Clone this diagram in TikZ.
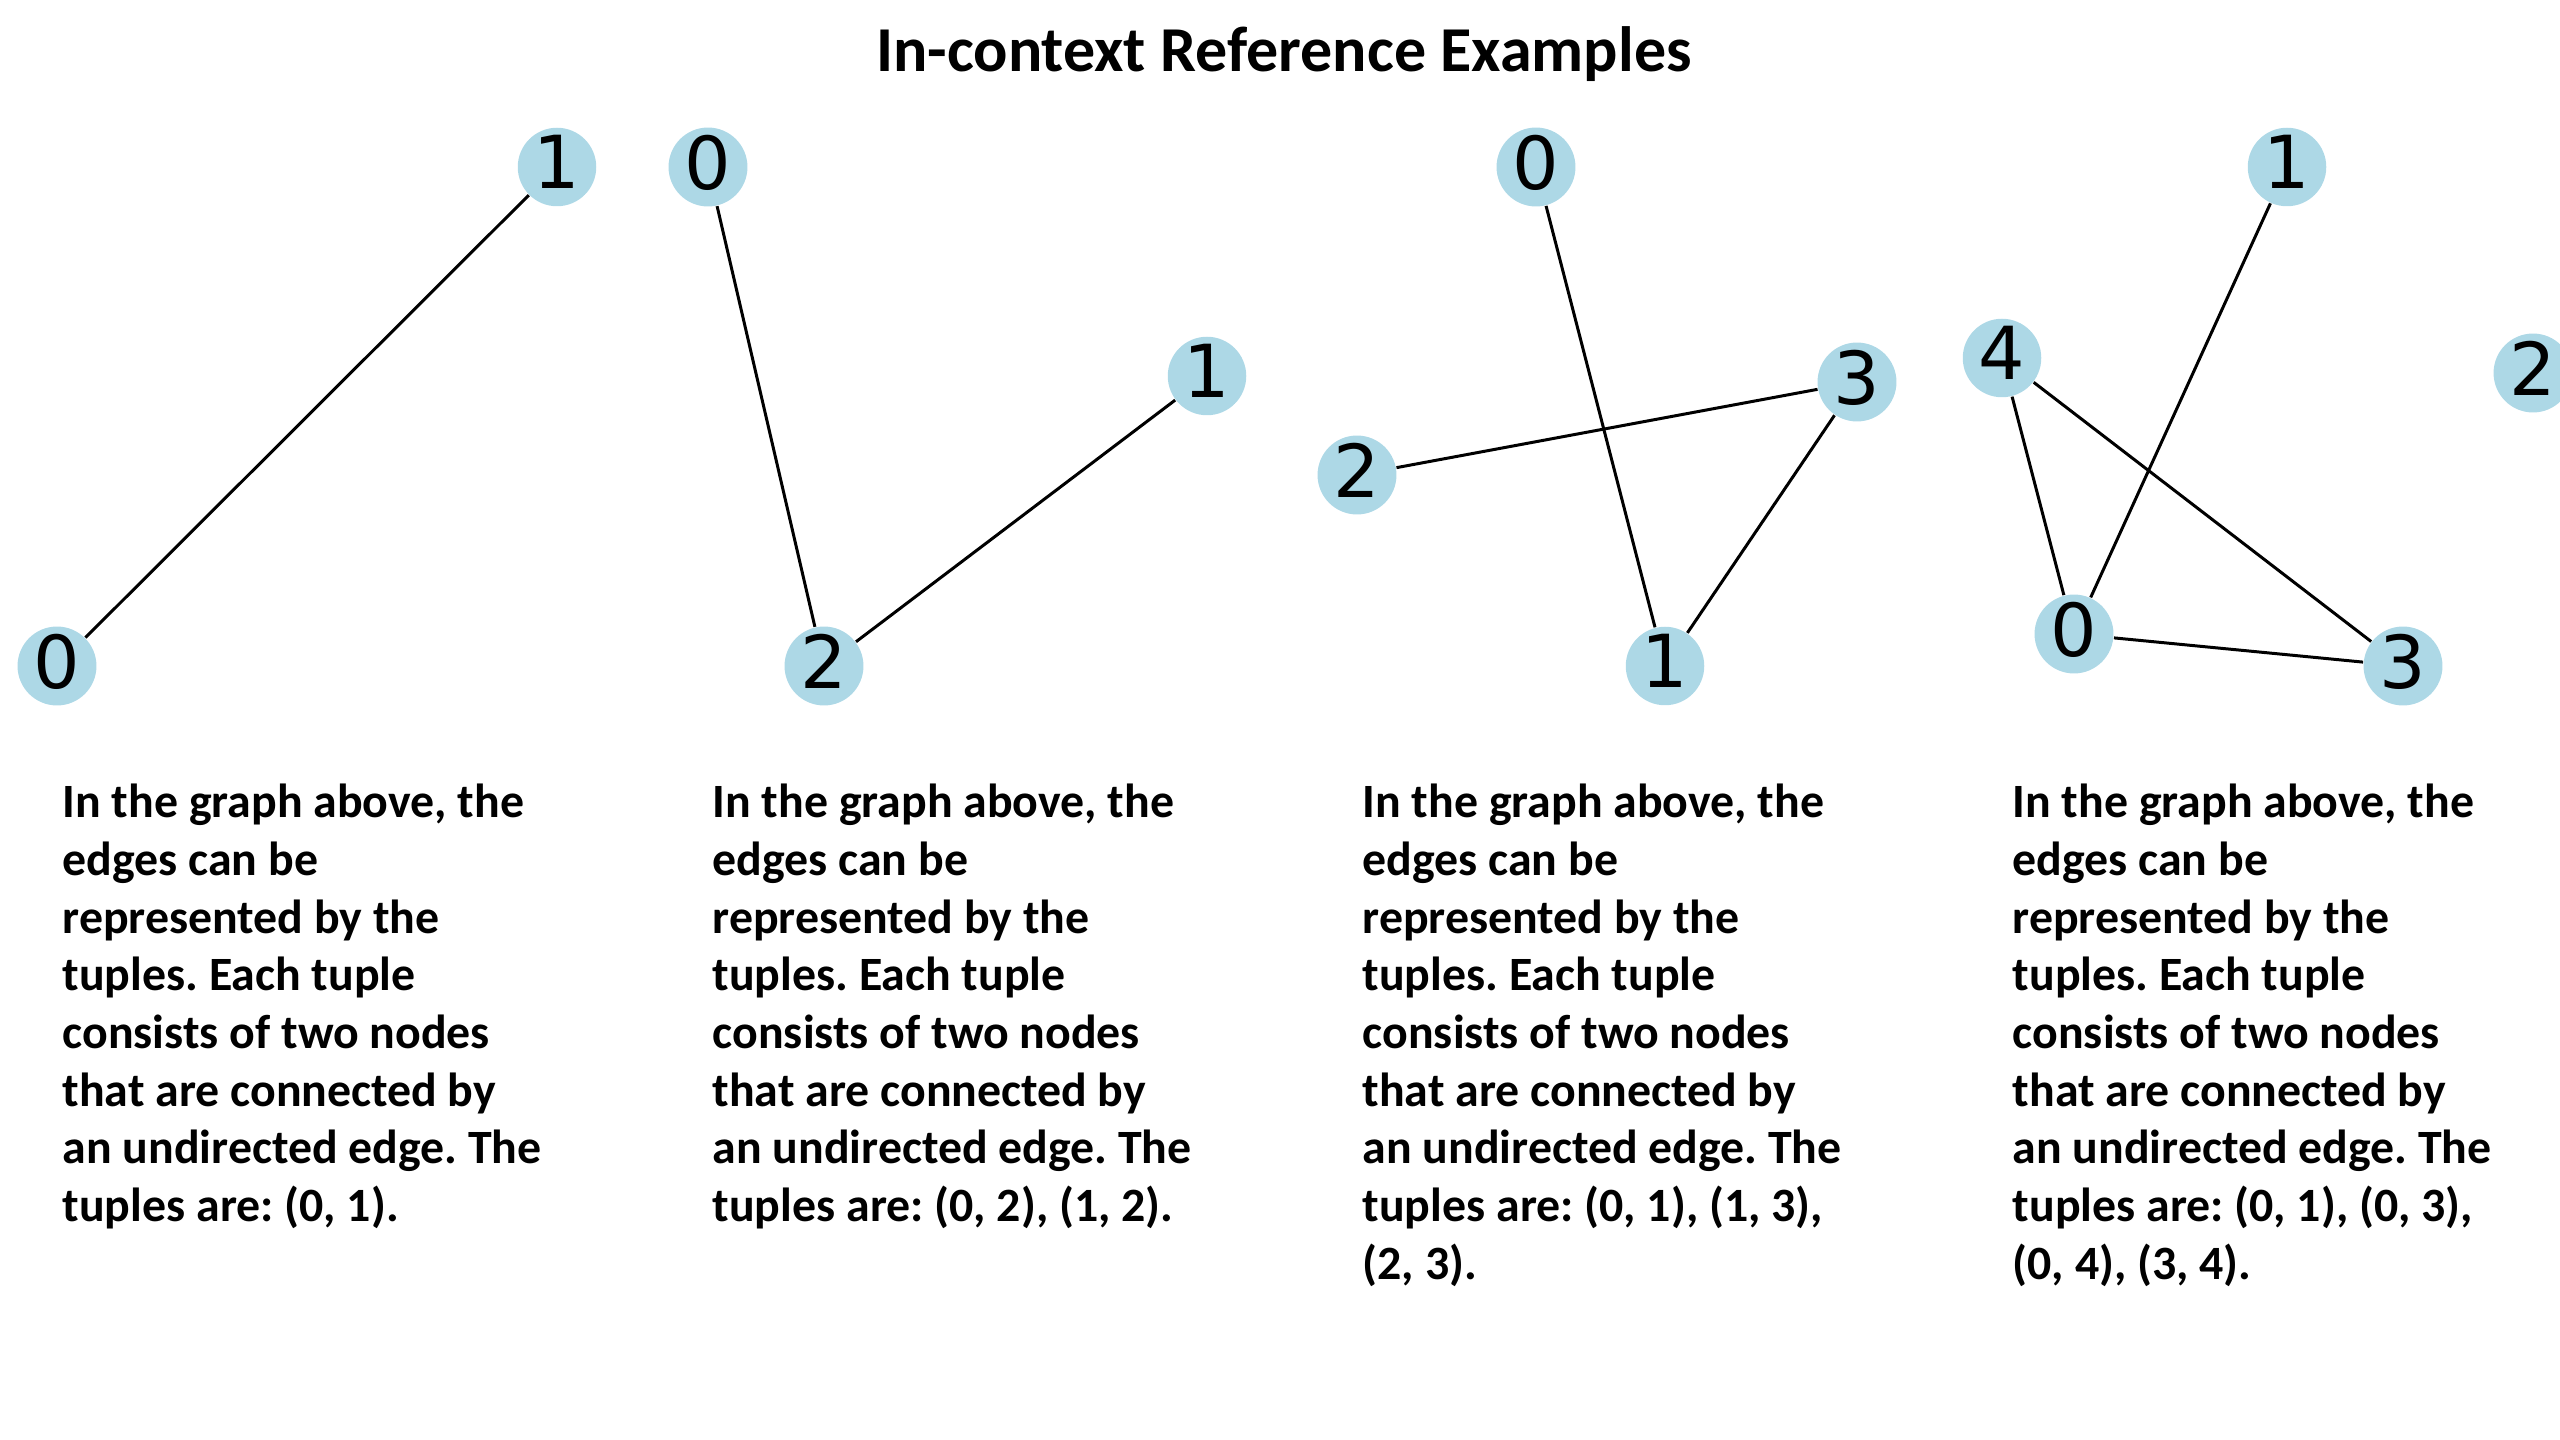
\documentclass[tikz,border=0pt]{standalone}
\usepackage{fontspec}
\setmainfont{Carlito}
\newfontfamily\digitfont{DejaVu Sans}
\usepackage{xcolor}
\definecolor{NodeBlue}{HTML}{ADD8E6}
\frenchspacing

\begin{document}
\begin{tikzpicture}[
  x=0.01cm, y=-0.01cm,
  vert/.style={
    circle,
    fill=NodeBlue,
    inner sep=0pt,
    minimum size=0.78cm,
    text depth=2.8pt,
    font=\digitfont\fontsize{20.8}{24}\selectfont
  },
  caption/.style={
    anchor=north west,
    align=left,
    inner sep=0pt,
    font=\bfseries\fontsize{13.6}{16.4}\selectfont
  },
  edge/.style={draw=black, line width=0.85pt}
]
\useasboundingbox (0,0) rectangle (2560,1440);

\node[font=\bfseries\fontsize{18.2}{22}\selectfont] (title) at (1284,54) {In-context Reference Examples};

\node[vert] (a0) at (57,666) {0};
\node[vert] (a1) at (557,167) {1};

\node[vert] (b0) at (708,167) {0};
\node[vert] (b1) at (1207,376) {1};
\node[vert] (b2) at (824,666) {2};

\node[vert] (c0) at (1536,167) {0};
\node[vert] (c1) at (1665,666) {1};
\node[vert] (c2) at (1357,475) {2};
\node[vert] (c3) at (1857,382) {3};

\node[vert] (d0) at (2074,634) {0};
\node[vert] (d1) at (2287,167) {1};
\node[vert] (d2) at (2533,373) {2};
\node[vert] (d3) at (2403,666) {3};
\node[vert] (d4) at (2002,358) {4};

\draw[edge] (a0) -- (a1);
\draw[edge] (b0) -- (b2);
\draw[edge] (b1) -- (b2);
\draw[edge] (c0) -- (c1);
\draw[edge] (c1) -- (c3);
\draw[edge] (c2) -- (c3);
\draw[edge] (d0) -- (d1);
\draw[edge] (d0) -- (d3);
\draw[edge] (d0) -- (d4);
\draw[edge] (d3) -- (d4);

\node[caption] (ta) at (62,775) {\rule{0pt}{12pt}In the graph above, the\\edges can be\\represented by the\\tuples. Each tuple\\consists of two nodes\\that are connected by\\an undirected edge. The\\tuples are: (0, 1).};
\node[caption] (tb) at (712,775) {\rule{0pt}{12pt}In the graph above, the\\edges can be\\represented by the\\tuples. Each tuple\\consists of two nodes\\that are connected by\\an undirected edge. The\\tuples are: (0, 2), (1, 2).};
\node[caption] (tc) at (1362,775) {\rule{0pt}{12pt}In the graph above, the\\edges can be\\represented by the\\tuples. Each tuple\\consists of two nodes\\that are connected by\\an undirected edge. The\\tuples are: (0, 1), (1, 3),\\(2, 3).};
\node[caption] (td) at (2012,775) {\rule{0pt}{12pt}In the graph above, the\\edges can be\\represented by the\\tuples. Each tuple\\consists of two nodes\\that are connected by\\an undirected edge. The\\tuples are: (0, 1), (0, 3),\\(0, 4), (3, 4).};
\end{tikzpicture}
\end{document}
